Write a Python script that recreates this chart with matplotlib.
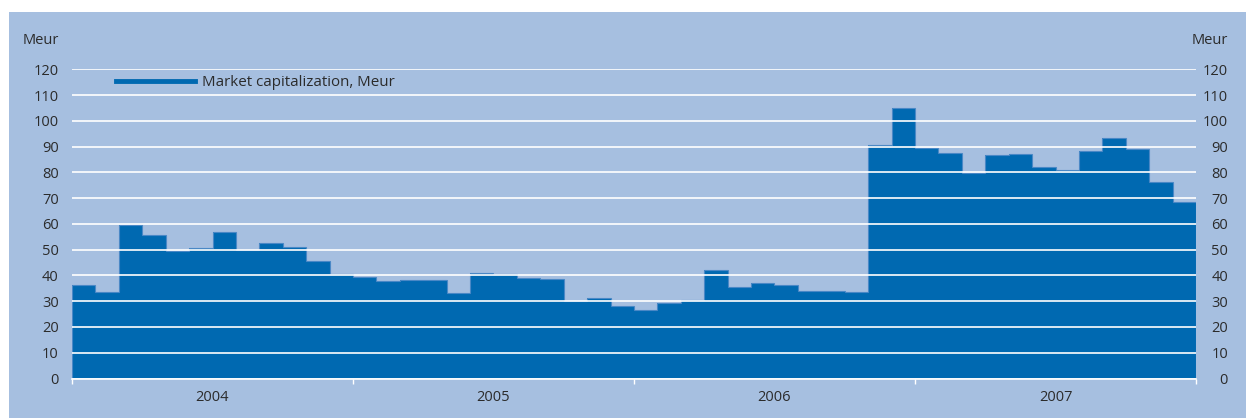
import numpy as np
import matplotlib
matplotlib.use("Agg")
import matplotlib.pyplot as plt
from matplotlib.lines import Line2D
from matplotlib.patches import Rectangle

plt.rcParams['font.family'] = ['Open Sans', 'DejaVu Sans']

# monthly market capitalization, Meur (Jan 2004 .. Dec 2007)
cap_2004 = [36.3, 33.7, 59.4, 55.6, 49.5, 50.5, 57.0, 50.0, 52.6, 50.9, 45.6, 40.4]
cap_2005 = [39.4, 38.0, 38.3, 38.3, 33.1, 41.1, 40.6, 39.0, 38.6, 30.2, 31.2, 28.1]
cap_2006 = [26.6, 29.4, 30.6, 42.1, 35.4, 36.9, 36.3, 33.8, 33.8, 33.4, 90.7, 105.1]
cap_2007 = [89.3, 87.4, 79.6, 86.9, 87.1, 82.0, 80.9, 88.2, 93.5, 88.9, 76.4, 68.4]
years = ['2004', '2005', '2006', '2007']
yticks = list(range(0, 130, 10))
series_label = 'Market capitalization, Meur'
unit = 'Meur'

values = np.array(cap_2004 + cap_2005 + cap_2006 + cap_2007)
n = len(values)

bg = '#a6bfe0'
bar_col = '#0069b1'
edge_col = '#4a88c6'
txt = '#2b2b2b'
fs = 10.5

W, H = 1246, 418
fig = plt.figure(figsize=(W / 100, H / 100), dpi=100)
fig.patch.set_facecolor('white')
# light blue panel, leaves a small white strip at top and left
fig.patches.append(Rectangle((9 / W, 0), 1 - 9 / W, 1 - 12 / H,
                             transform=fig.transFigure, facecolor=bg,
                             edgecolor='none', zorder=-10))

x0, x1 = 72, 1196
yb, yt = 378.5, 69.3
ax = fig.add_axes([x0 / W, 1 - yb / H, (x1 - x0) / W, (yb - yt) / H])
ax.set_facecolor('none')

# monthly bars as one filled step shape (no seams between months)
edges = np.arange(n + 1)
ax.stairs(values, edges, fill=True, color=bar_col, linewidth=0, zorder=1)
ax.stairs(values, edges, color=edge_col, linewidth=0.8, zorder=1.5)

ax.set_xlim(0, n)
ax.set_ylim(0, 120)

# horizontal white gridlines over the bars
ax.set_axisbelow(False)
ax.set_yticks(yticks)
ax.yaxis.grid(True, color='white', linewidth=1.2)
ax.set_yticklabels([str(v) for v in yticks], color=txt, fontsize=fs)
ax.tick_params(axis='y', length=0, pad=9.5)

ax2 = ax.twinx()
ax2.set_ylim(0, 120)
ax2.set_yticks(yticks)
ax2.set_yticklabels([str(v) for v in yticks], color=txt, fontsize=fs,
                    ha='right')
ax2.tick_params(axis='y', length=0, pad=23)
for s in ax2.spines.values():
    s.set_visible(False)

# year boundaries as ticks, year names centred between them
ax.set_xticks(np.arange(0, n + 1, 12))
ax.set_xticklabels([])
ax.set_xticks(np.arange(6, n, 12), minor=True)
ax.set_xticklabels(years, minor=True, color=txt, fontsize=fs)
ax.tick_params(axis='x', which='major', direction='out', length=3.5,
               width=1, color='white')
ax.tick_params(axis='x', which='minor', length=0, pad=8)

for s in ['top', 'left', 'right']:
    ax.spines[s].set_visible(False)
ax.spines['bottom'].set_color('white')
ax.spines['bottom'].set_linewidth(1.2)

fig.text(59 / W, 1 - 40 / H, unit, ha='right', va='center', color=txt,
         fontsize=fs)
fig.text(1228 / W, 1 - 40 / H, unit, ha='right', va='center', color=txt,
         fontsize=fs)

handle = Line2D([], [], color=bar_col, linewidth=3.5)
ax.legend([handle], [series_label], loc='center left',
          bbox_to_anchor=((116 - x0) / (x1 - x0), (yb - 83) / (yb - yt)),
          frameon=False, borderpad=0, borderaxespad=0, handlelength=5.2,
          handletextpad=0.5, fontsize=10.9, labelcolor=txt)

fig.savefig('out.png', dpi=100, facecolor=fig.get_facecolor())
